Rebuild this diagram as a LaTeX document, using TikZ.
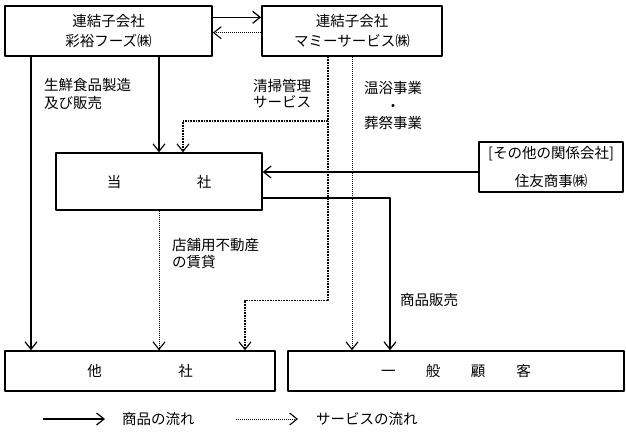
\documentclass[tikz,border=0pt]{standalone}
\usepackage{fontspec}
\setmainfont{Noto Sans CJK JP}
\usetikzlibrary{arrows.meta}
\tikzset{
  box/.style={draw, line width=1.8pt, rectangle, align=center, inner sep=0pt, font=\fontsize{14.5}{20.6}\selectfont},
  goods/.style={line width=1.1pt, -{Straight Barb[length=7.5pt,width=12pt,line width=1.2pt]}},
  svc/.style={line width=0.9pt, dash pattern=on 0.9pt off 1.1pt, -{Straight Barb[length=7.5pt,width=12pt,line width=1.1pt]}},
  svcbold/.style={line width=1.7pt, dash pattern=on 1pt off 0.6pt, -{Straight Barb[length=7.5pt,width=12pt,line width=1.1pt]}},
  lbl/.style={align=left, anchor=base west, inner sep=0pt}
}
\begin{document}
\begin{tikzpicture}[x=1pt, y=-1pt, line join=round, font=\fontsize{14.5}{17}\selectfont]
  \useasboundingbox (0,0) rectangle (626,431);
  % boxes
  \node[box, minimum width=207pt, minimum height=50pt] (saiyu) at (108.5,31) {連結子会社\\彩裕フーズ㈱};
  \node[box, minimum width=180pt, minimum height=50pt] (mamy) at (352,31) {連結子会社\\マミーサービス㈱};
  \node[box, line width=1.4pt, minimum width=206pt, minimum height=57pt] (tosha) at (159,181.5) {当\hspace{75.5pt}社};
  \node[box, minimum width=144pt, minimum height=50pt, font=\fontsize{14.5}{28}\selectfont] (sumi) at (551,167) {[その他の関係会社]\\住友商事㈱};
  \node[box, line width=1.6pt, minimum width=270pt, minimum height=40pt] (tasha) at (140,371) {他\hspace{76.5pt}社};
  \node[box, line width=1.6pt, minimum width=336pt, minimum height=40pt] (ippan) at (456,371) {一\hspace{30.5pt}般\hspace{30.5pt}顧\hspace{31pt}客};
  % corners of the cleaning service line
  \coordinate (k1) at (328,121);
  \coordinate (k2) at (328,300.5);
  % connectors
  \draw[goods] ([yshift=13.7pt]saiyu.east) -- ([yshift=13.7pt]saiyu.east -| mamy.west);
  \draw[svc] ([yshift=-1.7pt]mamy.west) -- ([yshift=-1.7pt]mamy.west -| saiyu.east);
  \draw[goods] ([xshift=-77.5pt]saiyu.south) -- ([xshift=-77.5pt]saiyu.south |- tasha.north);
  \draw[goods] ([xshift=50.5pt]saiyu.south) -- (tosha.north);
  \draw[svcbold] (mamy.south -| k1) -- (k1) -| ([xshift=24pt]tosha.north);
  \draw[svcbold] (k1) -- (k2) -| ([xshift=105pt]tasha.north);
  \draw[svc] (mamy.south) -- (mamy.south |- ippan.north);
  \draw[goods] ([yshift=-5pt]sumi.west) -- ([yshift=-5pt]sumi.west -| tosha.east);
  \draw[goods] ([yshift=-16.5pt]tosha.east) -| ([xshift=-66pt]ippan.north);
  \draw[svc] (tosha.south) -- (tosha.south |- tasha.north);
  % labels (placed at the baseline of their last line)
  \node[lbl, font=\fontsize{14.5}{18}\selectfont] (l1) at (44,108.5) {生鮮食品製造\\及び販売};
  \node[lbl, font=\fontsize{14.5}{16}\selectfont] (l2) at (253,107.5) {清掃管理\\サービス};
  \node[lbl, align=center, anchor=base, font=\fontsize{14.5}{17.5}\selectfont] (l3) at (393,128.5) {温浴事業\\・\\葬祭事業};
  \node[lbl] (l4) at (172,267.5) {店舗用不動産\\の賃貸};
  \node[lbl] (l5) at (400,305.5) {商品販売};
  % legend
  \coordinate (g1) at (43,419); \coordinate (g2) at (105,419);
  \coordinate (s1) at (236,419); \coordinate (s2) at (298,419);
  \draw[goods] (g1) -- (g2);
  \node[lbl] (lg) at (122,424.5) {商品の流れ};
  \draw[svc] (s1) -- (s2);
  \node[lbl] (ls) at (316,424.5) {サービスの流れ};
\end{tikzpicture}
\end{document}
